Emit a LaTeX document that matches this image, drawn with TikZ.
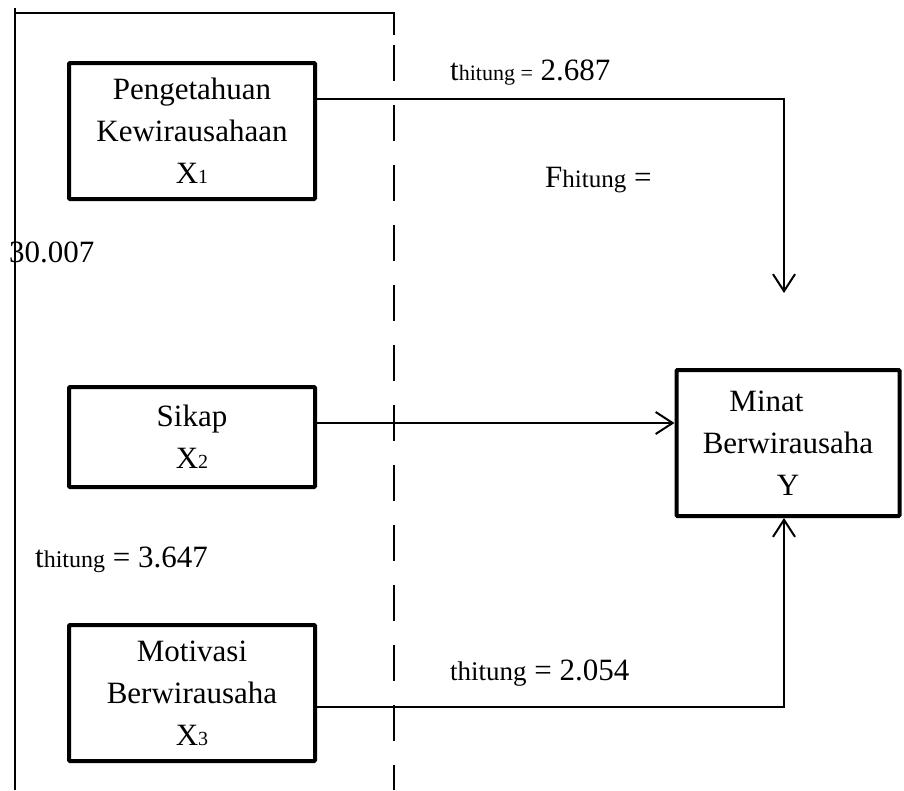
\documentclass[tikz,border=0pt]{standalone}
\usepackage{fontspec}
\setmainfont{Liberation Serif}
\usepackage{tikz}
\usetikzlibrary{arrows.meta,positioning}
\newcommand{\bigtxt}{\fontsize{31}{42}\selectfont}
\newcommand{\idx}[1]{{\fontsize{20}{20}\selectfont #1}}
\newcommand{\hitsz}[2]{{\fontsize{#1}{#1}\selectfont #2}}
\tikzset{
  varBox/.style={draw, line width=4pt, rounded corners=1pt, align=center, inner sep=0pt, font=\bigtxt},
  pathArrow/.style={-{Straight Barb[length=17pt,width=22pt]}, line width=2pt},
  statLabel/.style={anchor=base west, inner sep=0pt, font=\bigtxt},
  frameLine/.style={line width=2pt}
}

\begin{document}
\begin{tikzpicture}[x=1pt,y=-1pt]
  \useasboundingbox (0,0) rectangle (904,790);
  % frame lines
  \draw[frameLine] (15,790) -- (15,8);
  \draw[frameLine] (15,13) -- (394,13) -- (394,35);
  \draw[frameLine, dash pattern=on 36pt off 24pt] (394,45) -- (394,790);
  % variables
  \node[varBox, minimum width=246pt, minimum height=136pt] (X1) at (192,131) {Pengetahuan\\Kewirausahaan\\X\idx{1}};
  \node[varBox, minimum width=246pt, minimum height=100pt] (X2) at (192,437) {Sikap\\X\idx{2}};
  \node[varBox, minimum width=246pt, minimum height=136pt] (X3) at (192,693) {Motivasi\\Berwirausaha\\X\idx{3}};
  \node[varBox, minimum width=223pt, minimum height=146pt] (Y) at (788,443) {Minat\hphantom{Mn}\\Berwirausaha\\Y};
  % paths
  \coordinate (f1) at (784,293);
  \draw[pathArrow] (X1.east |- 0,99) -| (f1);
  \draw[pathArrow] (X2.east |- 0,423) -- (Y.west |- 0,423);
  \draw[pathArrow] (X3.east |- 0,707) -| ([xshift=-4pt]Y.south);
  % statistics
  \node[statLabel] (t1) at (450,80) {t\hitsz{22}{hitung =} 2.687};
  \node[statLabel] (F) at (545,187) {F\hitsz{25}{hitung} =};
  \node[statLabel] (Fv) at (9,262) {30.007};
  \node[statLabel] (t2) at (35,567) {t\hitsz{24}{hitung} = 3.647};
  \node[statLabel] (t3) at (450,680) {\hitsz{27}{thitung} = 2.054};
\end{tikzpicture}
\end{document}
